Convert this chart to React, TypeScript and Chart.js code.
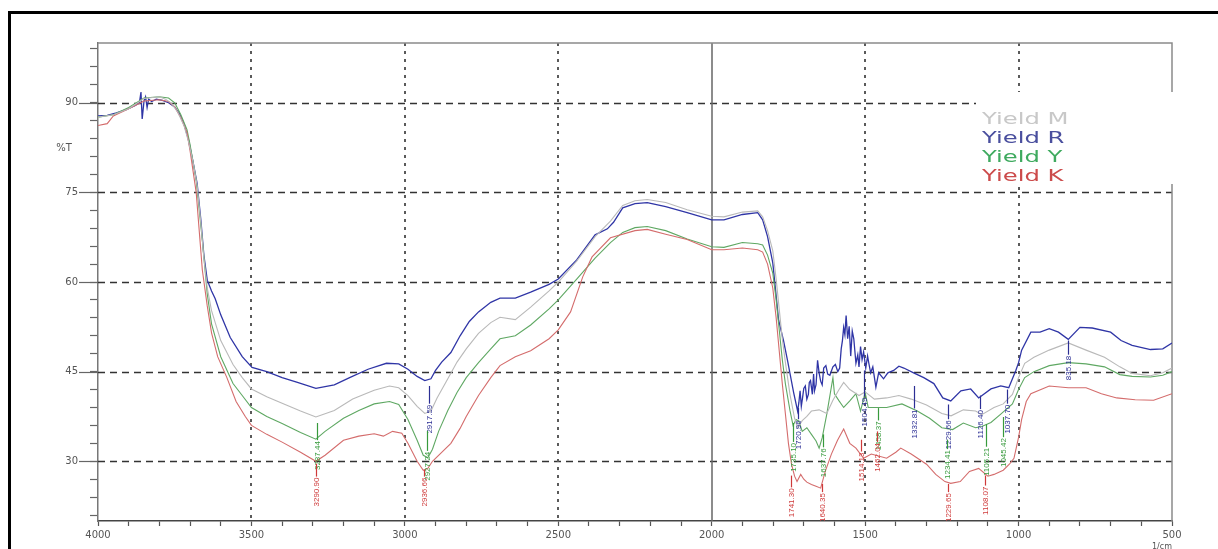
import React, { useEffect, useRef } from "react";
import { Chart, registerables } from "chart.js";

Chart.register(...registerables);

// ---- axis ranges and tick labels ----
const X_MIN = 500;
const X_MAX = 4000;
const Y_MIN = 20;
const Y_MAX = 100;
const X_LABELS = [4000, 3500, 3000, 2500, 2000, 1500, 1000, 500];
const Y_LABELS = [90, 75, 60, 45, 30];
const X_DOTTED = [3500, 3000, 2500, 1500, 1000];
const X_SOLID = [2000];
const Y_UNIT = "%T";
const X_UNIT = "1/cm";

// ---- series: [wavenumber (1/cm), transmittance (%T)] ----
const YIELD_M: [number, number][] = [
  [4000, 87.6], [3950, 88.0], [3900, 89.0], [3850, 90.7], [3800, 91.0], [3780, 90.6], [3760, 89.9],
  [3740, 88.4], [3720, 86.2], [3705, 83.5], [3690, 80.0], [3677, 76.2], [3665, 70.0], [3655, 64.0],
  [3644, 59.0], [3630, 55.2], [3600, 50.2], [3560, 46.2], [3530, 44.0], [3500, 42.1], [3450, 40.8],
  [3400, 39.7], [3340, 38.4], [3290, 37.4], [3230, 38.5], [3170, 40.4], [3100, 41.9], [3050, 42.6],
  [3020, 42.3], [2990, 41.0], [2960, 39.2], [2935, 38.0], [2915, 38.4], [2895, 40.6], [2860, 43.8],
  [2830, 46.6], [2800, 48.8], [2760, 51.4], [2720, 53.2], [2690, 54.1], [2640, 53.7], [2590, 55.8],
  [2530, 58.5], [2500, 60.0], [2440, 63.5], [2380, 67.6], [2330, 70.2], [2290, 72.8], [2250, 73.6],
  [2210, 73.8], [2150, 73.3], [2080, 72.1], [2000, 71.0], [1960, 70.9], [1900, 71.7], [1850, 71.9],
  [1834, 70.9], [1818, 68.6], [1801, 65.2], [1790, 60.5], [1780, 55.5], [1770, 50.5], [1760, 46.6],
  [1745, 41.2], [1730, 37.2], [1720, 35.6], [1705, 36.8], [1690, 37.5], [1675, 38.4], [1650, 38.6],
  [1625, 38.0], [1605, 40.2], [1585, 42.0], [1570, 43.2], [1550, 42.0], [1520, 41.0], [1500, 41.6],
  [1470, 40.4], [1430, 40.6], [1390, 41.0], [1350, 40.4], [1300, 39.4], [1250, 38.0], [1220, 37.6],
  [1180, 38.6], [1140, 38.4], [1120, 37.8], [1080, 39.0], [1050, 39.6], [1020, 41.2], [1000, 44.0],
  [980, 46.4], [950, 47.4], [900, 48.6], [838, 49.8], [780, 48.6], [720, 47.4], [670, 45.8],
  [630, 44.7], [570, 44.3], [530, 44.8], [500, 45.6],
];

const YIELD_R: [number, number][] = [
  [4000, 87.8], [3970, 87.9], [3940, 88.3], [3910, 88.8], [3880, 89.5], [3865, 90.0], [3860, 91.8],
  [3856, 87.3], [3850, 90.3], [3845, 91.0], [3840, 89.2], [3835, 90.6], [3825, 90.2], [3810, 90.6],
  [3790, 90.4], [3770, 90.0], [3750, 89.3], [3735, 88.2], [3720, 86.5], [3705, 83.8], [3690, 80.0],
  [3677, 76.5], [3665, 70.5], [3655, 64.5], [3644, 60.3], [3630, 58.5], [3618, 57.2], [3600, 54.5],
  [3569, 50.7], [3530, 47.5], [3498, 45.7], [3450, 45.0], [3400, 44.0], [3350, 43.2], [3290, 42.2],
  [3230, 42.8], [3180, 44.0], [3120, 45.4], [3060, 46.4], [3020, 46.3], [2990, 45.4], [2960, 44.2],
  [2935, 43.5], [2915, 43.8], [2900, 45.2], [2880, 46.6], [2850, 48.2], [2820, 51.0], [2790, 53.4],
  [2760, 55.0], [2720, 56.6], [2690, 57.3], [2640, 57.3], [2590, 58.3], [2530, 59.6], [2500, 60.5],
  [2440, 63.7], [2380, 67.9], [2340, 68.9], [2320, 70.0], [2290, 72.4], [2250, 73.1], [2210, 73.3],
  [2150, 72.6], [2080, 71.6], [2000, 70.4], [1960, 70.4], [1900, 71.3], [1850, 71.6], [1834, 70.4],
  [1818, 67.6], [1801, 63.2], [1792, 58.7], [1782, 53.6], [1766, 50.2], [1753, 46.9], [1733, 41.5],
  [1720, 38.4], [1716, 39.8], [1712, 41.8], [1708, 39.2], [1704, 40.6], [1700, 42.2], [1695, 42.6],
  [1690, 40.4], [1685, 41.2], [1682, 43.2], [1678, 43.5], [1672, 41.2], [1668, 44.6], [1665, 41.8],
  [1660, 42.8], [1655, 46.9], [1650, 44.8], [1645, 43.4], [1640, 42.8], [1635, 45.6], [1628, 46.0],
  [1622, 44.6], [1615, 44.4], [1605, 45.8], [1597, 46.2], [1589, 45.0], [1583, 45.6], [1578, 48.8],
  [1574, 50.2], [1570, 52.4], [1566, 51.2], [1562, 54.4], [1557, 50.5], [1552, 52.6], [1547, 47.6],
  [1542, 51.8], [1537, 50.5], [1530, 46.4], [1524, 47.8], [1520, 45.8], [1515, 49.2], [1510, 47.0],
  [1505, 48.3], [1498, 45.6], [1492, 47.6], [1488, 46.4], [1482, 44.8], [1475, 45.8], [1465, 42.4],
  [1456, 44.8], [1440, 43.8], [1426, 44.8], [1407, 45.2], [1390, 45.9], [1374, 45.6],
  [1342, 44.8], [1309, 44.0], [1276, 43.0], [1247, 40.6], [1221, 40.1], [1188, 41.8], [1156, 42.1],
  [1130, 40.6], [1090, 42.1], [1058, 42.6], [1032, 42.3], [1009, 45.2], [1000, 46.5], [990, 48.6],
  [960, 51.6], [930, 51.6], [900, 52.2], [870, 51.6], [838, 50.4], [800, 52.4], [760, 52.3],
  [700, 51.6], [666, 50.2], [630, 49.4], [570, 48.7], [530, 48.8], [500, 49.8],
];

const YIELD_Y: [number, number][] = [
  [4000, 87.6], [3950, 88.0], [3900, 89.2], [3850, 90.8], [3800, 91.0], [3770, 90.8], [3750, 90.0],
  [3730, 88.0], [3710, 85.5], [3700, 83.0], [3680, 77.0], [3660, 67.0], [3644, 58.0], [3630, 53.0],
  [3600, 47.5], [3560, 43.0], [3530, 41.0], [3500, 39.0], [3450, 37.5], [3400, 36.3], [3340, 34.8],
  [3290, 33.7], [3260, 35.0], [3200, 37.2], [3150, 38.5], [3100, 39.6], [3050, 40.0], [3020, 39.5],
  [2990, 37.0], [2960, 33.5], [2940, 31.0], [2925, 30.6], [2910, 32.0], [2890, 35.0], [2860, 38.5],
  [2830, 41.5], [2800, 44.0], [2760, 46.5], [2720, 48.8], [2690, 50.5], [2640, 51.0], [2590, 52.8],
  [2530, 55.5], [2500, 57.0], [2440, 60.5], [2380, 64.0], [2330, 66.6], [2290, 68.3], [2250, 69.1],
  [2210, 69.3], [2150, 68.6], [2080, 67.2], [2000, 65.9], [1960, 65.8], [1900, 66.6], [1850, 66.4],
  [1834, 66.2], [1818, 64.5], [1801, 61.5], [1790, 57.0], [1780, 52.0], [1770, 47.0], [1760, 43.0],
  [1745, 38.5], [1735, 36.0], [1725, 37.0], [1716, 36.7], [1705, 35.0], [1690, 35.6], [1675, 34.5],
  [1660, 33.4], [1650, 32.2], [1640, 33.9], [1625, 37.9], [1605, 44.0], [1600, 41.3], [1585, 40.1],
  [1570, 39.0], [1550, 40.1], [1530, 41.3], [1515, 38.4], [1500, 41.5], [1490, 39.0], [1470, 39.0],
  [1430, 39.0], [1380, 39.6], [1330, 38.4], [1290, 37.2], [1250, 35.6], [1215, 35.3], [1180, 36.4],
  [1140, 35.6], [1120, 35.8], [1090, 36.5], [1058, 37.9], [1020, 39.6], [1000, 42.0], [980, 44.0],
  [950, 45.0], [900, 46.0], [838, 46.5], [780, 46.3], [720, 45.8], [670, 44.5], [630, 44.2],
  [570, 44.1], [530, 44.4], [500, 45.0],
];

const YIELD_K: [number, number][] = [
  [4000, 86.2], [3970, 86.5], [3950, 87.8], [3900, 89.0], [3850, 90.3], [3800, 90.5], [3770, 90.2],
  [3750, 89.3], [3730, 87.5], [3710, 85.0], [3700, 82.0], [3680, 75.0], [3660, 62.0], [3644, 56.0],
  [3630, 51.5], [3610, 47.5], [3580, 44.0], [3550, 40.0], [3520, 37.5], [3500, 36.0], [3450, 34.5],
  [3400, 33.2], [3340, 31.5], [3290, 30.0], [3260, 31.0], [3200, 33.5], [3150, 34.2], [3100, 34.6],
  [3070, 34.2], [3040, 35.0], [3010, 34.7], [2990, 33.0], [2960, 30.0], [2940, 28.5], [2925, 28.8],
  [2910, 30.0], [2880, 31.5], [2850, 33.0], [2820, 35.5], [2800, 37.5], [2760, 41.0], [2720, 44.0],
  [2690, 46.0], [2640, 47.5], [2590, 48.5], [2530, 50.5], [2500, 52.0], [2460, 55.0], [2420, 60.9],
  [2390, 64.2], [2330, 67.4], [2250, 68.6], [2210, 68.8], [2150, 68.0], [2080, 67.1], [2000, 65.4],
  [1960, 65.4], [1900, 65.7], [1850, 65.4], [1834, 65.0], [1818, 63.0], [1801, 59.0], [1790, 54.0],
  [1780, 48.5], [1770, 43.0], [1760, 38.0], [1750, 33.0], [1740, 29.5], [1730, 27.5], [1722, 26.6],
  [1710, 27.8], [1700, 27.0], [1690, 26.5], [1675, 26.1], [1660, 25.8], [1645, 25.5], [1630, 28.3],
  [1610, 31.2], [1590, 33.5], [1570, 35.4], [1550, 33.0], [1530, 32.2], [1505, 30.5], [1480, 31.2],
  [1430, 30.5], [1400, 31.5], [1384, 32.2], [1350, 31.2], [1300, 29.5], [1270, 27.8], [1240, 26.6],
  [1221, 26.3], [1190, 26.6], [1160, 28.3], [1130, 28.8], [1100, 27.5], [1080, 27.8], [1050, 28.5],
  [1030, 29.5], [1015, 30.5], [1000, 34.0], [990, 37.0], [975, 40.0], [960, 41.3], [900, 42.6],
  [838, 42.3], [780, 42.3], [730, 41.3], [680, 40.6], [620, 40.3], [560, 40.2], [500, 41.3],
];

const SERIES_NAMES = ["Yield M", "Yield R", "Yield Y", "Yield K"];
const SERIES_COLORS = ["#b9b9b9", "#2f35a6", "#5fa863", "#d46c6c"];
const LEGEND_COLORS = ["#c8c8c8", "#4a4f9e", "#3faa5f", "#cc4b4b"];
const LABEL_COLORS = ["#999999", "#2c2f94", "#379a3c", "#cf3a3a"];

// ---- peak annotations: [wavenumber, leader-top %T, text-top %T, text, series index] ----
const PEAKS: [number, number, number, string, number][] = [
  [2922, 42.6, 39.8, "2917.59", 1],
  [1720, 38.9, 37.2, "1720.96", 1],
  [1504, 45.2, 41.0, "1504.49", 1],
  [1342, 42.6, 39.0, "1332.81", 1],
  [1229, 39.5, 37.2, "1229.66", 1],
  [1126, 41.0, 38.9, "1126.40", 1],
  [1037, 42.0, 39.8, "1037.70", 1],
  [838, 50.2, 48.0, "835.18", 1],
  [3287, 36.4, 33.7, "3287.44", 2],
  [2927, 35.1, 31.9, "2927.24", 2],
  [1735, 36.4, 33.4, "1735.10", 2],
  [1638, 34.5, 32.5, "1637.76", 2],
  [1458, 38.9, 37.0, "1458.37", 2],
  [1234, 33.6, 32.2, "1234.41", 2],
  [1105, 36.2, 32.6, "1105.21", 2],
  [1050, 37.4, 34.2, "1045.42", 2],
  [3290, 29.6, 27.6, "3290.90", 3],
  [2936, 28.6, 27.6, "2936.66", 3],
  [1741, 27.6, 25.8, "1741.30", 3],
  [1640, 26.2, 25.0, "1640.35", 3],
  [1514, 33.6, 31.8, "1514.13", 3],
  [1462, 35.0, 33.4, "1462.04", 3],
  [1229, 26.2, 25.0, "1229.65", 3],
  [1108, 27.6, 26.1, "1108.07", 3],
];

const FONT = '"DejaVu Sans", sans-serif';

const decorPlugin = {
  id: "irDecor",
  beforeDraw(chart: any) {
    const { ctx, width, height } = chart;
    ctx.save();
    ctx.fillStyle = "#ffffff";
    ctx.fillRect(0, 0, width, height);
    ctx.restore();
  },
  beforeDatasetsDraw(chart: any) {
    const { ctx, chartArea: a, scales } = chart;
    const xs = scales.x;
    const ys = scales.y;
    ctx.save();
    // horizontal dashed grid
    ctx.strokeStyle = "#333333";
    ctx.lineWidth = 1.3;
    ctx.setLineDash([7, 5]);
    for (const v of Y_LABELS) {
      const y = Math.round(ys.getPixelForValue(v)) + 0.5;
      ctx.beginPath();
      ctx.moveTo(a.left, y);
      ctx.lineTo(a.right, y);
      ctx.stroke();
    }
    // vertical dotted grid
    ctx.strokeStyle = "#5a5a5a";
    ctx.lineWidth = 2;
    ctx.setLineDash([3, 5]);
    for (const v of X_DOTTED) {
      const x = Math.round(xs.getPixelForValue(v));
      ctx.beginPath();
      ctx.moveTo(x, a.top);
      ctx.lineTo(x, a.bottom);
      ctx.stroke();
    }
    // solid vertical
    ctx.setLineDash([]);
    ctx.strokeStyle = "#666666";
    ctx.lineWidth = 1.5;
    for (const v of X_SOLID) {
      const x = Math.round(xs.getPixelForValue(v));
      ctx.beginPath();
      ctx.moveTo(x, a.top);
      ctx.lineTo(x, a.bottom);
      ctx.stroke();
    }
    // top and right borders
    ctx.strokeStyle = "#8a8a8a";
    ctx.lineWidth = 1.5;
    ctx.beginPath();
    ctx.moveTo(a.left, a.top);
    ctx.lineTo(a.right, a.top);
    ctx.lineTo(a.right, a.bottom);
    ctx.stroke();
    // long major y ticks
    ctx.strokeStyle = "#666666";
    ctx.lineWidth = 1.2;
    for (const v of Y_LABELS) {
      const y = Math.round(ys.getPixelForValue(v)) + 0.5;
      ctx.beginPath();
      ctx.moveTo(a.left - 19, y);
      ctx.lineTo(a.left, y);
      ctx.stroke();
    }
    ctx.restore();
  },
  afterDatasetsDraw(chart: any) {
    const { ctx, chartArea: a, scales } = chart;
    const xs = scales.x;
    const ys = scales.y;
    ctx.save();
    ctx.beginPath();
    ctx.rect(a.left, a.top, a.right - a.left, a.bottom - a.top);
    ctx.clip();
    ctx.font = '8px "Liberation Sans", sans-serif';
    ctx.textBaseline = "middle";
    ctx.textAlign = "right";
    for (const [wn, lead, top, text, si] of PEAKS) {
      const x = Math.round(xs.getPixelForValue(wn)) + 0.5;
      const y0 = ys.getPixelForValue(lead);
      const y1 = ys.getPixelForValue(top);
      const col = LABEL_COLORS[si];
      ctx.strokeStyle = col;
      ctx.lineWidth = 1.2;
      ctx.beginPath();
      ctx.moveTo(x, y0);
      ctx.lineTo(x, y1 + 1);
      ctx.stroke();
      ctx.save();
      ctx.translate(x, y1 + 2);
      ctx.rotate(-Math.PI / 2);
      ctx.fillStyle = col;
      ctx.fillText(text, 0, 0);
      ctx.restore();
    }
    ctx.restore();
  },
  afterDraw(chart: any) {
    const { ctx, chartArea: a, scales } = chart;
    ctx.save();
    // %T and 1/cm
    ctx.fillStyle = "#555555";
    ctx.font = `10px ${FONT}`;
    ctx.textAlign = "center";
    ctx.textBaseline = "middle";
    ctx.fillText(Y_UNIT, 64, scales.y.getPixelForValue(82.5) + 1);
    ctx.font = `8px ${FONT}`;
    ctx.textBaseline = "top";
    ctx.fillText(X_UNIT, scales.x.getPixelForValue(X_MIN) - 10, a.bottom + 22);
    // legend box
    ctx.fillStyle = "#ffffff";
    ctx.fillRect(976, 92, 218, 92);
    ctx.font = `15px ${FONT}`;
    ctx.textAlign = "left";
    ctx.textBaseline = "alphabetic";
    SERIES_NAMES.forEach((name, i) => {
      ctx.save();
      ctx.translate(982, 124 + i * 19);
      ctx.scale(1.62, 1);
      ctx.fillStyle = LEGEND_COLORS[i];
      ctx.fillText(name, 0, 0);
      ctx.restore();
    });
    // outer frame
    ctx.strokeStyle = "#000000";
    ctx.lineWidth = 3;
    ctx.strokeRect(9.5, 12.5, 1300, 700);
    ctx.restore();
  },
};

export default function App() {
  const ref = useRef<HTMLCanvasElement | null>(null);

  useEffect(() => {
    if (!ref.current) return;
    const seriesList = [YIELD_M, YIELD_R, YIELD_Y, YIELD_K];
    const drawOrder = [0, 3, 2, 1];
    const datasets = drawOrder.map((i) => ({
      label: SERIES_NAMES[i],
      data: seriesList[i].map(([x, y]) => ({ x, y })),
      borderColor: SERIES_COLORS[i],
      backgroundColor: SERIES_COLORS[i],
      borderWidth: i === 1 ? 1.3 : 1.1,
      pointRadius: 0,
      showLine: true,
      fill: false,
      tension: 0,
    }));

    const chart = new Chart(ref.current, {
      type: "scatter",
      data: { datasets },
      options: {
        animation: false,
        responsive: false,
        devicePixelRatio: 1,
        layout: { padding: { top: 43, right: 46, bottom: 0, left: 0 } },
        plugins: {
          legend: { display: false },
          tooltip: { enabled: false },
        },
        scales: {
          x: {
            type: "linear",
            reverse: true,
            min: X_MIN,
            max: X_MAX,
            afterBuildTicks: (scale: any) => {
              const t: any[] = [];
              for (let v = X_MIN; v <= X_MAX; v += 100) t.push({ value: v });
              scale.ticks = t;
            },
            afterFit: (scale: any) => {
              scale.height = 28;
            },
            ticks: {
              autoSkip: false,
              maxRotation: 0,
              padding: 3,
              color: "#555555",
              font: { family: FONT, size: 10 },
              callback: (v: any) => (X_LABELS.includes(Number(v)) ? String(v) : ""),
            },
            grid: {
              drawOnChartArea: false,
              drawTicks: true,
              tickLength: 5,
              tickColor: "#555555",
              tickWidth: 1.2,
            },
            border: { display: true, color: "#444444", width: 1.5 },
          },
          y: {
            type: "linear",
            min: Y_MIN,
            max: Y_MAX,
            afterBuildTicks: (scale: any) => {
              const t: any[] = [];
              for (let v = 21; v <= 99; v += 3) t.push({ value: v });
              scale.ticks = t;
            },
            afterFit: (scale: any) => {
              scale.width = 98;
            },
            ticks: {
              autoSkip: false,
              padding: 12,
              color: "#555555",
              font: { family: FONT, size: 10 },
              callback: (v: any) => (Y_LABELS.includes(Number(v)) ? String(v) : ""),
            },
            grid: {
              drawOnChartArea: false,
              drawTicks: true,
              tickLength: 8,
              tickColor: "#666666",
              tickWidth: 1.2,
            },
            border: { display: true, color: "#777777", width: 1.5 },
          },
        },
      },
      plugins: [decorPlugin],
    } as any);

    return () => chart.destroy();
  }, []);

  return (
    <div style={{ position: "fixed", left: 0, top: 0, width: 1218, height: 549, background: "#fff" }}>
      <canvas ref={ref} width={1218} height={549} style={{ display: "block" }} />
    </div>
  );
}
